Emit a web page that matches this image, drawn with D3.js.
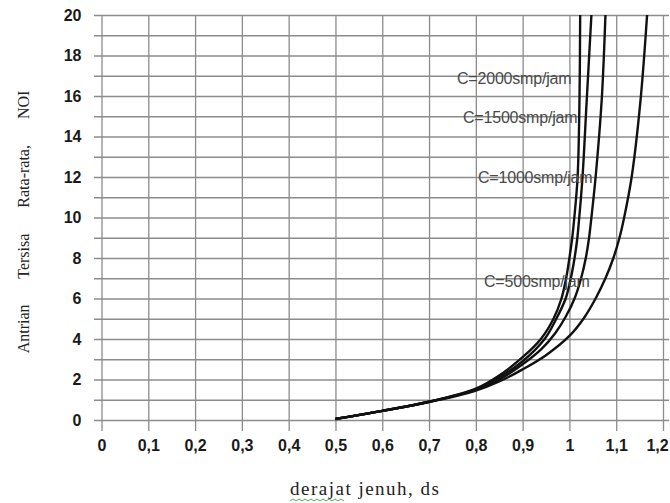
<!DOCTYPE html>
<html>
<head>
<meta charset="utf-8">
<script src="https://cdnjs.cloudflare.com/ajax/libs/d3/7.8.5/d3.min.js"></script>
<style>
    html, body { margin: 0; padding: 0; background: #fff; }
    svg { display: block; }
    .grid line { stroke: #8c8c8c; stroke-width: 1.3; }
    .grid path { display: none; }
    .tick-labels text { font-family: Arial, "Liberation Sans", sans-serif; font-size: 16px; font-weight: bold; fill: #1a1a1a; }
    .tick-labels path, .tick-labels line { display: none; }
    .curve { fill: none; stroke: #111; stroke-width: 2.4; }
    .curve-label { font-family: Arial, "Liberation Sans", sans-serif; font-size: 16px; fill: #4a4a4a; letter-spacing: -0.2px; }
    .axis-title { font-family: "Liberation Serif", "Times New Roman", serif; fill: #222; }
</style>
</head>
<body>
<div id="chart"></div>
<script>
// Chart size
const W = 670, H = 503;

// Plot box (pixel edges of the grid)
const PLOT = { left: 101.5, right: 663, top: 15, bottom: 420 };

// Tick values and labels
const xTicks = [0, 0.1, 0.2, 0.3, 0.4, 0.5, 0.6, 0.7, 0.8, 0.9, 1.0, 1.1, 1.2];
const xTickLabels = ["0", "0,1", "0,2", "0,3", "0,4", "0,5", "0,6", "0,7", "0,8", "0,9", "1", "1,1", "1,2"];
const yTicks = [0, 2, 4, 6, 8, 10, 12, 14, 16, 18, 20];
const yGrid = d3.range(0, 21, 1);

// Curves: degree of saturation (ds) and queue (NQ1)
const capacities = ["C=2000smp/jam", "C=1500smp/jam", "C=1000smp/jam", "C=500smp/jam"];

const ds2000 = [0.5, 0.6, 0.7, 0.8, 0.85, 0.9, 0.939, 0.966, 0.983, 0.993, 1.0, 1.006, 1.0105, 1.0175, 1.0215, 1.023];
const nq2000 = [0.05, 0.45, 0.9, 1.55, 2.2, 3.1, 4, 5, 6, 7, 8, 9, 10, 12, 15.8, 20];

const ds1500 = [0.5, 0.6, 0.7, 0.8, 0.85, 0.9, 0.947, 0.972, 0.992, 1.003, 1.011, 1.017, 1.021, 1.028, 1.037, 1.047];
const nq1500 = [0.05, 0.45, 0.9, 1.5, 2.1, 2.9, 4, 5, 6, 7, 8, 9, 10, 12, 15.8, 20];

const ds1000 = [0.5, 0.6, 0.7, 0.8, 0.85, 0.9, 0.94, 0.97, 0.992, 1.011, 1.025, 1.035, 1.042, 1.047, 1.056, 1.069, 1.077];
const nq1000 = [0.05, 0.45, 0.9, 1.5, 2.0, 2.75, 3.5, 4.3, 5.1, 6, 7, 8, 9, 10, 12, 15.8, 20];

const ds500 = [0.5, 0.6, 0.7, 0.8, 0.85, 0.9, 0.95, 1.0, 1.03, 1.056, 1.077, 1.094, 1.107, 1.117, 1.133, 1.152, 1.166];
const nq500 = [0.05, 0.45, 0.88, 1.45, 1.9, 2.5, 3.2, 4.15, 5, 6, 7, 8, 9, 10, 12, 15.8, 20];

const series = [
    { name: capacities[0], ds: ds2000, nq: nq2000 },
    { name: capacities[1], ds: ds1500, nq: nq1500 },
    { name: capacities[2], ds: ds1000, nq: nq1000 },
    { name: capacities[3], ds: ds500, nq: nq500 }
];

// Where each curve label sits (pixels: left x, baseline y)
const labelPos = [
    { x: 457, y: 84 },
    { x: 463, y: 123 },
    { x: 478, y: 183 },
    { x: 484, y: 287 }
];

const svg = d3.select("#chart")
    .append("svg")
    .attr("width", W)
    .attr("height", H);

const x = d3.scaleLinear().domain([0, 1.2]).range([PLOT.left, PLOT.right]);
const y = d3.scaleLinear().domain([0, 20]).range([PLOT.bottom, PLOT.top]);

// Horizontal grid (every unit), a bit past the left edge
svg.append("g")
    .attr("class", "grid")
    .attr("transform", `translate(94,0)`)
    .call(d3.axisLeft(y).tickValues(yGrid).tickSize(-(669 - 94)).tickFormat(""));

// Vertical grid (every 0.1), running below the zero line as ticks
svg.append("g")
    .attr("class", "grid")
    .attr("transform", `translate(0,431)`)
    .call(d3.axisBottom(x).tickValues(xTicks).tickSize(-(431 - PLOT.top)).tickFormat(""));

// Tick labels
svg.append("g")
    .attr("class", "tick-labels")
    .attr("transform", `translate(${PLOT.left},0)`)
    .call(d3.axisLeft(y).tickValues(yTicks).tickSize(0).tickPadding(20).tickFormat(d => d));

const xLabels = svg.append("g")
    .attr("class", "tick-labels")
    .attr("transform", `translate(0,${PLOT.bottom})`)
    .call(d3.axisBottom(x).tickValues(xTicks).tickSize(0).tickPadding(20)
        .tickFormat((d, i) => xTickLabels[i]));

// last label sits just inside the right edge
xLabels.selectAll(".tick text")
    .filter(d => d === 1.2)
    .attr("dx", -6);

// Clip curves to the plot box
svg.append("clipPath")
    .attr("id", "plot-clip")
    .append("rect")
    .attr("x", PLOT.left - 2)
    .attr("y", PLOT.top)
    .attr("width", PLOT.right - PLOT.left + 8)
    .attr("height", PLOT.bottom - PLOT.top + 2);

const line = d3.line()
    .x(d => x(d[0]))
    .y(d => y(d[1]))
    .curve(d3.curveCatmullRom.alpha(0.5));

svg.append("g")
    .attr("clip-path", "url(#plot-clip)")
    .selectAll(".curve")
    .data(series)
    .enter()
    .append("path")
    .attr("class", "curve")
    .attr("d", s => line(s.ds.map((v, i) => [v, s.nq[i]])));

// Curve labels
svg.selectAll(".curve-label")
    .data(series)
    .enter()
    .append("text")
    .attr("class", "curve-label")
    .attr("x", (d, i) => labelPos[i].x)
    .attr("y", (d, i) => labelPos[i].y)
    .text(d => d.name);

// Axis titles
svg.append("text")
    .attr("class", "axis-title")
    .attr("transform", "translate(29,222) rotate(-90)")
    .attr("text-anchor", "middle")
    .style("font-size", "16px")
    .style("word-spacing", "22px")
    .text("Antrian Tersisa Rata-rata, NOI");

svg.append("text")
    .attr("class", "axis-title")
    .attr("x", 290)
    .attr("y", 495)
    .attr("textLength", 149)
    .attr("lengthAdjust", "spacing")
    .style("font-size", "19px")
    .text("derajat jenuh, ds");

// spell-check squiggle under "derajat", as in the scan
svg.append("path")
    .attr("d", d3.range(290, 346, 3).map((px, i) => `${i ? "L" : "M"}${px},${i % 2 ? 499 : 501}`).join(""))
    .attr("fill", "none")
    .attr("stroke", "#4caf50")
    .attr("stroke-width", 1);
</script>
</body>
</html>
